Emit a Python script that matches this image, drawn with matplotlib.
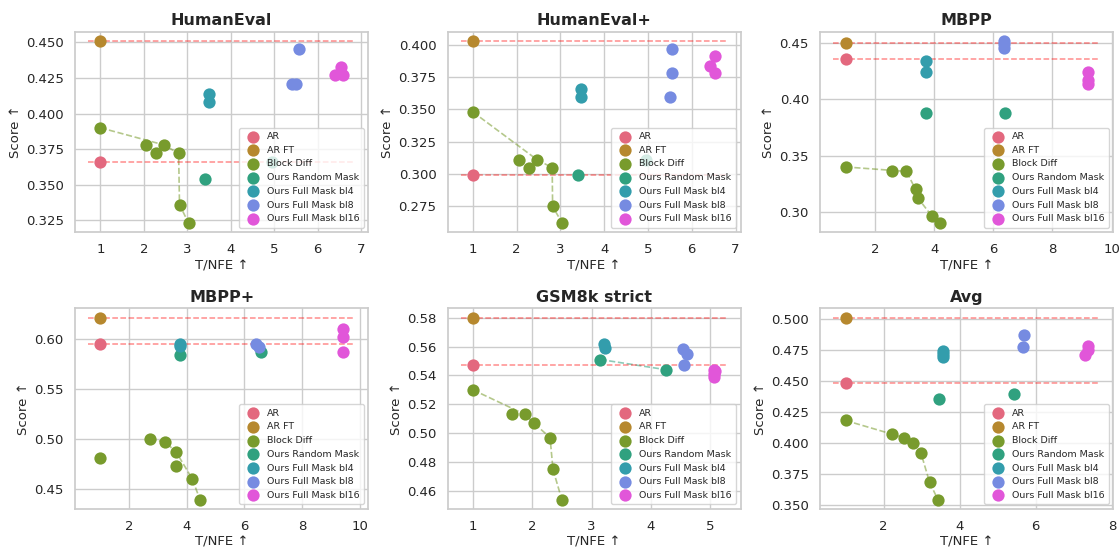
import matplotlib
matplotlib.use("Agg")
import matplotlib.pyplot as plt
import seaborn as sns

sns.set_theme(style="whitegrid")
plt.rcParams["font.family"] = ["DejaVu Sans"]

SERIES = ["AR", "AR FT", "Block Diff", "Ours Random Mask",
          "Ours Full Mask bl4", "Ours Full Mask bl8", "Ours Full Mask bl16"]
palette = [tuple(c * 0.92 for c in rgb) for rgb in sns.color_palette("husl", len(SERIES))]
colors = dict(zip(SERIES, palette))

# (T/NFE, score) per method
humaneval = {
    "AR": ([1.0], [0.366]),
    "AR FT": ([1.0], [0.451]),
    "Block Diff": ([1.0, 2.06, 2.29, 2.46, 2.80, 2.82, 3.03],
                   [0.390, 0.378, 0.372, 0.378, 0.372, 0.336, 0.323]),
    "Ours Random Mask": ([3.41, 4.95], [0.354, 0.366]),
    "Ours Full Mask bl4": ([3.50, 3.50], [0.414, 0.408]),
    "Ours Full Mask bl8": ([5.56, 5.42, 5.50], [0.445, 0.421, 0.421]),
    "Ours Full Mask bl16": ([6.54, 6.39, 6.58], [0.433, 0.427, 0.427]),
}
humaneval_plus = {
    "AR": ([1.0], [0.299]),
    "AR FT": ([1.0], [0.403]),
    "Block Diff": ([1.0, 2.06, 2.28, 2.47, 2.81, 2.82, 3.04],
                   [0.348, 0.311, 0.305, 0.311, 0.305, 0.275, 0.262]),
    "Ours Random Mask": ([3.40, 4.96], [0.299, 0.311]),
    "Ours Full Mask bl4": ([3.48, 3.48], [0.366, 0.360]),
    "Ours Full Mask bl8": ([5.54, 5.54, 5.51], [0.397, 0.378, 0.360]),
    "Ours Full Mask bl16": ([6.53, 6.41, 6.54], [0.391, 0.384, 0.378]),
}
mbpp = {
    "AR": ([1.0], [0.436]),
    "AR FT": ([1.0], [0.450]),
    "Block Diff": ([1.0, 2.57, 3.06, 3.37, 3.46, 3.93, 4.20],
                   [0.340, 0.336, 0.336, 0.320, 0.312, 0.296, 0.290]),
    "Ours Random Mask": ([3.71, 6.39], [0.388, 0.388]),
    "Ours Full Mask bl4": ([3.72, 3.72], [0.434, 0.424]),
    "Ours Full Mask bl8": ([6.35, 6.35, 6.35], [0.452, 0.449, 0.446]),
    "Ours Full Mask bl16": ([9.20, 9.20, 9.20], [0.424, 0.417, 0.414]),
}
mbpp_plus = {
    "AR": ([1.0], [0.595]),
    "AR FT": ([1.0], [0.622]),
    "Block Diff": ([1.0, 2.73, 3.25, 3.63, 3.63, 4.19, 4.46],
                   [0.481, 0.500, 0.497, 0.487, 0.473, 0.460, 0.439]),
    "Ours Random Mask": ([3.77, 6.57], [0.584, 0.587]),
    "Ours Full Mask bl4": ([3.77, 3.77], [0.595, 0.593]),
    "Ours Full Mask bl8": ([6.42, 6.50], [0.595, 0.592]),
    "Ours Full Mask bl16": ([9.42, 9.42, 9.42], [0.611, 0.603, 0.587]),
}
gsm8k = {
    "AR": ([1.0], [0.547]),
    "AR FT": ([1.0], [0.580]),
    "Block Diff": ([1.0, 1.66, 1.88, 2.03, 2.30, 2.35, 2.50],
                   [0.530, 0.513, 0.513, 0.507, 0.497, 0.475, 0.454]),
    "Ours Random Mask": ([3.15, 4.25], [0.551, 0.544]),
    "Ours Full Mask bl4": ([3.21, 3.22], [0.562, 0.559]),
    "Ours Full Mask bl8": ([4.55, 4.61, 4.56], [0.558, 0.555, 0.547]),
    "Ours Full Mask bl16": ([5.07, 5.09, 5.06, 5.06], [0.544, 0.543, 0.541, 0.539]),
}
avg = {
    "AR": ([1.0], [0.448]),
    "AR FT": ([1.0], [0.501]),
    "Block Diff": ([1.0, 2.22, 2.53, 2.77, 2.98, 3.21, 3.43],
                   [0.418, 0.407, 0.404, 0.400, 0.392, 0.368, 0.354]),
    "Ours Random Mask": ([3.46, 5.43], [0.435, 0.439]),
    "Ours Full Mask bl4": ([3.55, 3.55, 3.55], [0.474, 0.472, 0.469]),
    "Ours Full Mask bl8": ([5.69, 5.67], [0.487, 0.477]),
    "Ours Full Mask bl16": ([7.36, 7.37, 7.29], [0.478, 0.475, 0.471]),
}

panels = [("HumanEval", humaneval), ("HumanEval+", humaneval_plus), ("MBPP", mbpp),
          ("MBPP+", mbpp_plus), ("GSM8k strict", gsm8k), ("Avg", avg)]
xticks = {"HumanEval": range(1, 8), "HumanEval+": range(1, 8), "MBPP": [2, 4, 6, 8, 10],
          "MBPP+": [2, 4, 6, 8, 10], "GSM8k strict": range(1, 6), "Avg": [2, 4, 6, 8]}


def pareto(xs, ys):
    # points not beaten on both speed and score
    pts = sorted(zip(xs, ys), key=lambda p: (-p[0], -p[1]))
    keep, best = [], -1.0
    for x, y in pts:
        if y > best:
            keep.append((x, y))
            best = y
    keep.sort()
    return [p[0] for p in keep], [p[1] for p in keep]


fig, axes = plt.subplots(2, 3, figsize=(11.19, 5.49), dpi=100)
fig.subplots_adjust(left=0.067, right=0.995, top=0.942, bottom=0.073,
                    wspace=0.27, hspace=0.38)

for ax, (title, data) in zip(axes.flat, panels):
    for name in SERIES:
        xs, ys = data[name]
        ax.scatter(xs, ys, s=78, color=colors[name], label=name, zorder=3, linewidths=0)
        if len(xs) > 1:
            fx, fy = pareto(xs, ys)
            ax.plot(fx, fy, ls="--", lw=1.2, color=colors[name], alpha=0.55, zorder=2)
    x0, x1 = ax.get_xlim()
    for name in ["AR FT", "AR"]:
        ax.hlines(data[name][1][0], x0, x1, colors="red", linestyles="--",
                  lw=1.1, alpha=0.45, zorder=2)
    ax.set_xticks(list(xticks[title]))
    ax.set_title(title, fontsize=11.5, fontweight="bold", pad=5)
    ax.set_xlabel("T/NFE ↑", fontsize=9.5, labelpad=2)
    ax.set_ylabel("Score ↑", fontsize=9.5, labelpad=3)
    ax.tick_params(labelsize=9.5, pad=2)
    ax.legend(loc="lower right", fontsize=6.8, markerscale=1.0,
              handletextpad=0.5, labelspacing=0.5, borderpad=0.45, framealpha=0.8)

fig.savefig("out.png", dpi=100)
